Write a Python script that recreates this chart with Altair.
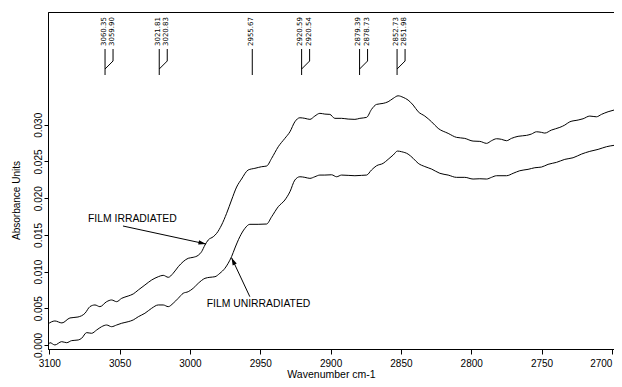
import altair as alt
import pandas as pd

# ---- spectra ----
upper_wn = [3101, 3096, 3091, 3085.3, 3079.6, 3074.6, 3071.1, 3067.5, 3064, 3059.2,
            3055.7, 3052.1, 3048.5, 3043.9, 3040.3, 3036.7, 3032, 3027.2, 3022.5, 3019,
            3015.4, 3011.9, 3008.3, 3004.8, 3001.2, 2997.7, 2994.1, 2991.7, 2989.3, 2987,
            2983.4, 2981, 2977.5, 2973.9, 2970.4, 2966.8, 2963.3, 2958.6, 2953.8, 2949,
            2945.5, 2941.9, 2937.2, 2932.5, 2928.9, 2925.4, 2921.8, 2918.3, 2914.7, 2911.2,
            2907.6, 2904.1, 2900.5, 2897, 2892.2, 2887.5, 2882.7, 2879.2, 2874.4, 2870.9,
            2867.3, 2862.6, 2859.1, 2855.5, 2852, 2848.4, 2844.9, 2841.3, 2837.7, 2833,
            2828.2, 2823.5, 2816.4, 2810.5, 2804.6, 2798.7, 2793.9, 2789.1, 2785.6, 2782,
            2778.5, 2774.9, 2771.4, 2766.7, 2760.7, 2757.2, 2753.6, 2750.1, 2747.7, 2743,
            2737, 2733.5, 2729.9, 2724, 2720.5, 2715.7, 2711, 2707.4, 2702.7, 2698.5]
upper_ab = [0.00286, 0.00327, 0.00300, 0.00368, 0.00381, 0.00432, 0.00522, 0.00545, 0.00522, 0.00590,
            0.00613, 0.00590, 0.00636, 0.00667, 0.00695, 0.00749, 0.00817, 0.00885, 0.00930, 0.00949,
            0.00922, 0.00977, 0.01066, 0.01135, 0.01181, 0.01194, 0.01222, 0.01271, 0.01362, 0.01430,
            0.01475, 0.01521, 0.01634, 0.01794, 0.01975, 0.02152, 0.02261, 0.02384, 0.02407, 0.02429,
            0.02438, 0.02543, 0.02701, 0.02815, 0.02905, 0.03041, 0.03096, 0.03088, 0.03074, 0.03119,
            0.03156, 0.03146, 0.03142, 0.03088, 0.03088, 0.03078, 0.03074, 0.03088, 0.03101, 0.03210,
            0.03278, 0.03292, 0.03314, 0.03360, 0.03395, 0.03374, 0.03337, 0.03269, 0.03178, 0.03119,
            0.03041, 0.02951, 0.02883, 0.02829, 0.02815, 0.02778, 0.02774, 0.02747, 0.02783, 0.02810,
            0.02802, 0.02783, 0.02815, 0.02843, 0.02856, 0.02874, 0.02905, 0.02897, 0.02887, 0.02928,
            0.02965, 0.02996, 0.03041, 0.03065, 0.03082, 0.03119, 0.03109, 0.03142, 0.03178, 0.03201]

lower_wn = [3101, 3099.5, 3096, 3091.2, 3087.6, 3084.1, 3079.4, 3077, 3073.4, 3069.9,
            3066.3, 3062.8, 3059.2, 3055.7, 3052.1, 3048.5, 3043.9, 3040.3, 3036.7, 3032,
            3027.2, 3022.5, 3019, 3015.4, 3011.9, 3008.3, 3004.8, 3001.2, 2997.7, 2994.1,
            2989.3, 2985.8, 2982.2, 2978.7, 2975.1, 2972.8, 2970.4, 2968, 2964.5, 2960.9,
            2957.4, 2951.5, 2945.5, 2941.9, 2937.2, 2932.5, 2928.9, 2925.4, 2921.8, 2918.3,
            2914.7, 2911.2, 2907.6, 2904.1, 2899.3, 2895.7, 2892.2, 2887.5, 2882.7, 2878,
            2874.4, 2870.9, 2867.3, 2862.6, 2859.1, 2855.5, 2852.4, 2849.5, 2844.9, 2841.3,
            2837.7, 2833, 2828.2, 2822.3, 2816.4, 2810.5, 2804.6, 2798.7, 2793.9, 2789.1,
            2785.6, 2782, 2774.9, 2770.2, 2765.5, 2759.6, 2754.8, 2750.1, 2745.4, 2739.4,
            2733.5, 2727.6, 2721.6, 2715.7, 2709.8, 2703.9, 2698.5]
lower_ab = [-0.0001, 0.00031, 0.0, 0.00045, 0.00031, 0.00059, 0.00068, 0.00091, 0.00168, 0.00159,
            0.00204, 0.00249, 0.00272, 0.00249, 0.00272, 0.00296, 0.00317, 0.00341, 0.00385, 0.00432,
            0.00500, 0.00545, 0.00545, 0.00522, 0.00568, 0.00636, 0.00704, 0.00726, 0.00772, 0.00840,
            0.00908, 0.00922, 0.00930, 0.00977, 0.01045, 0.01113, 0.01203, 0.01321, 0.01475, 0.01589,
            0.01644, 0.01644, 0.01648, 0.01747, 0.01884, 0.01975, 0.02088, 0.02247, 0.02292, 0.02284,
            0.02270, 0.02292, 0.02315, 0.02315, 0.02319, 0.02292, 0.02315, 0.02311, 0.02306, 0.02311,
            0.02315, 0.02384, 0.02442, 0.02475, 0.02529, 0.02588, 0.02642, 0.02633, 0.02601, 0.02543,
            0.02475, 0.02431, 0.02397, 0.02339, 0.02315, 0.02284, 0.02284, 0.02261, 0.02265, 0.02261,
            0.02284, 0.02306, 0.02306, 0.02339, 0.02374, 0.02393, 0.02415, 0.02424, 0.02461, 0.02488,
            0.02529, 0.02551, 0.02601, 0.02638, 0.02665, 0.02701, 0.02720]

# ---- peak picks ----
peak_main = [3060.35, 3021.81, 2955.67, 2920.59, 2879.39, 2852.73]
peak_main_txt = ["3060.35", "3021.81", "2955.67", "2920.59", "2879.39", "2852.73"]
peak_pair_txt = ["3059.90", "3020.83", "", "2920.54", "2878.73", "2851.98"]

# ---- annotations ----
ann_text = ["FILM IRRADIATED", "FILM UNIRRADIATED"]
ann_text_wn = [3072.5, 2988.1]
ann_text_ab = [0.01713, 0.00559]
arrow_start_wn = [3047.6, 2957.4]
arrow_start_ab = [0.01621, 0.00658]
arrow_tip_wn = [2988.6, 2970.4]
arrow_tip_ab = [0.01376, 0.01189]
arrow_angle = [102, 335]

x_ticks = [3100, 3050, 3000, 2950, 2900, 2850, 2800, 2750, 2700]
y_ticks = [0.0, 0.005, 0.010, 0.015, 0.020, 0.025, 0.030]

spec = pd.concat([
    pd.DataFrame({"wn": upper_wn, "ab": upper_ab, "series": "irradiated"}),
    pd.DataFrame({"wn": lower_wn, "ab": lower_ab, "series": "unirradiated"}),
])
peaks = pd.DataFrame({"wn": peak_main, "main": peak_main_txt, "pair": peak_pair_txt})
pairs = peaks[peaks["pair"] != ""]
ann = pd.DataFrame({"wn": ann_text_wn, "ab": ann_text_ab, "text": ann_text})
arrows = pd.DataFrame({"wn": arrow_start_wn, "ab": arrow_start_ab,
                       "wn2": arrow_tip_wn, "ab2": arrow_tip_ab})
heads = pd.DataFrame({"wn": arrow_tip_wn, "ab": arrow_tip_ab, "ang": arrow_angle})

xs = alt.Scale(domain=[2698.5, 3100.9], reverse=True, nice=False, zero=False)
ys = alt.Scale(domain=[-0.00055, 0.04537], nice=False, zero=False)

X = alt.X("wn:Q", scale=xs, axis=alt.Axis(
    values=x_ticks, format="d", title="Wavenumber cm-1", grid=False,
    tickSize=5, labelPadding=4, labelFontSize=10, titleFontSize=10.5,
    labelFlush=False, labelOverlap=False, titleY=28, titleBaseline="alphabetic",
    labelAlign={"expr": "datum.value == 2700 ? 'right' : 'center'"}))
Y = alt.Y("ab:Q", scale=ys, axis=alt.Axis(
    values=y_ticks, format=".3f", title="Absorbance Units", grid=False,
    tickSize=4, labelAngle=270, labelAlign="center", labelBaseline="bottom",
    labelPadding=1, labelFontSize=10, titleFontSize=10, labelFlush=False,
    labelOverlap=False, titleAngle=270, titleX=-32, titleY=188,
    titleAlign="center", titleBaseline="middle"))
Xp = alt.X("wn:Q", scale=xs)
Yp = alt.Y("ab:Q", scale=ys)

lines = alt.Chart(spec).mark_line(color="black", strokeWidth=1, interpolate="monotone",
                                   clip=True).encode(x=X, y=Y, detail="series:N")

stems = alt.Chart(peaks).mark_rule(color="black", strokeWidth=1).encode(
    x=Xp, y=alt.value(37), y2=alt.value(63))
branches = alt.Chart(pairs).mark_rule(color="black", strokeWidth=1, xOffset=8).encode(
    x=Xp, y=alt.value(37), y2=alt.value(49))
diags = alt.Chart(pairs).mark_rule(color="black", strokeWidth=1, xOffset=8, x2Offset=0).encode(
    x=Xp, x2="wn:Q", y=alt.value(49), y2=alt.value(57))
lab_main = alt.Chart(peaks).mark_text(angle=270, align="left", baseline="middle",
                                      font="DejaVu Sans", fontSize=7, color="black",
                                      xOffset=-1.5).encode(
    x=Xp, y=alt.value(34), text="main:N")
lab_pair = alt.Chart(pairs).mark_text(angle=270, align="left", baseline="middle",
                                      font="DejaVu Sans", fontSize=7, color="black",
                                      xOffset=7).encode(
    x=Xp, y=alt.value(34), text="pair:N")

ann_txt = alt.Chart(ann).mark_text(align="left", baseline="middle", font="Liberation Sans",
                                   fontSize=10.4, color="black").encode(
    x=Xp, y=Yp, text="text:N")
arrow_lines = alt.Chart(arrows).mark_rule(color="black", strokeWidth=1).encode(
    x=Xp, y=Yp, x2="wn2:Q", y2="ab2:Q")
arrow_heads = alt.Chart(heads).mark_point(shape="M0,0L0.6,2L-0.6,2Z", filled=True,
                                          color="black", opacity=1, size=56).encode(
    x=Xp, y=Yp, angle=alt.Angle("ang:Q", scale=None))

chart = alt.layer(lines, stems, branches, diags, lab_main, lab_pair,
                  ann_txt, arrow_lines, arrow_heads).properties(
    width=566, height=337,
    padding={"left": 40, "top": 4, "right": 0, "bottom": 30},
    autosize=alt.AutoSizeParams(type="none"),
).configure_axis(
    domainColor="black", tickColor="black", labelColor="black", titleColor="black",
    labelFont="Liberation Sans", titleFont="Liberation Sans", titleFontWeight="normal",
    domainWidth=1, tickWidth=1,
).configure_view(stroke="black", strokeWidth=1)

chart.save("out.html", embed_options={"renderer": "svg", "actions": False})
